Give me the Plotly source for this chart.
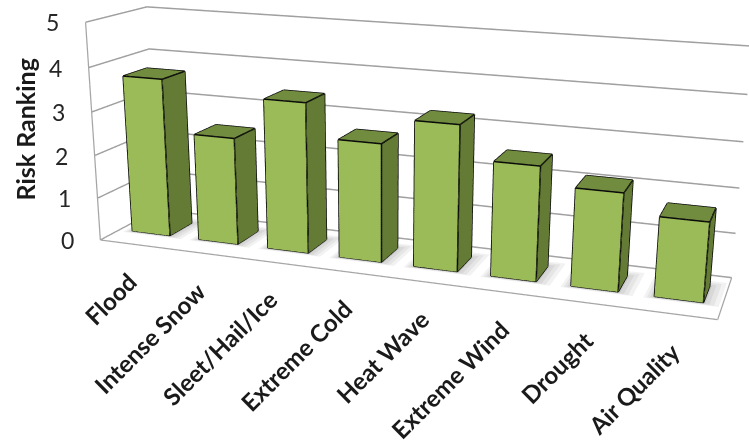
import plotly.graph_objects as go

categories = ["Flood", "Intense Snow", "Sleet/Hail/Ice", "Extreme Cold", "Heat Wave", "Extreme Wind", "Drought", "Air Quality"]
values = [3.7, 2.5, 3.45, 2.7, 3.27, 2.55, 2.16, 1.74]
ztick_values = [0, 1, 2, 3, 4, 5]
y_title = "Risk Ranking"

FRONT = "#9BBB59"
TOP = "#718C3E"
SIDE = "#637B34"
BAR_W = 0.57
Y0, Y1 = 0.3, 0.7
BASE = 0.025
SHADOW_COLORS = ["#F2F2F2", "#E5E5E5", "#D8D8D8", "#CACACA"]
SHADOW_PAD = [0.15, 0.105, 0.06, 0.02]
# The reference has a long lens; Plotly's field of view is fixed, so the scene is
# drawn larger than the window and the page is shifted to frame it.
FIG_W, FIG_H = 867, 1060
SHIFT_TOP = 321.5


def box(x0, x1, y0, y1, z0, z1, colors):
    v = [(x0, y0, z0), (x1, y0, z0), (x1, y1, z0), (x0, y1, z0),
         (x0, y0, z1), (x1, y0, z1), (x1, y1, z1), (x0, y1, z1)]
    faces = [(0, 1, 5), (0, 5, 4), (1, 2, 6), (1, 6, 5), (4, 5, 6), (4, 6, 7),
             (2, 3, 7), (2, 7, 6), (3, 0, 4), (3, 4, 7), (0, 2, 1), (0, 3, 2)]
    fc = [colors[0]] * 2 + [colors[1]] * 2 + [colors[2]] * 2 + [colors[1]] * 6
    return go.Mesh3d(
        x=[p[0] for p in v], y=[p[1] for p in v], z=[p[2] for p in v],
        i=[f[0] for f in faces], j=[f[1] for f in faces], k=[f[2] for f in faces],
        facecolor=fc, flatshading=True,
        lighting=dict(ambient=1, diffuse=0, specular=0, roughness=1, fresnel=0),
        hoverinfo="skip", showscale=False,
    )


def quad(x0, x1, y0, y1, z, color):
    return go.Mesh3d(x=[x0, x1, x1, x0], y=[y0, y0, y1, y1], z=[z] * 4, i=[0, 0], j=[1, 2], k=[2, 3],
                     color=color, flatshading=True,
                     lighting=dict(ambient=1, diffuse=0, specular=0, roughness=1, fresnel=0),
                     hoverinfo="skip", showscale=False)


def lines(segs, color, width):
    xs, ys, zs = [], [], []
    for a, b in segs:
        xs += [a[0], b[0], None]
        ys += [a[1], b[1], None]
        zs += [a[2], b[2], None]
    return go.Scatter3d(x=xs, y=ys, z=zs, mode="lines", line=dict(color=color, width=width),
                        hoverinfo="skip", showlegend=False)


def edges(x0, x1, y0, y1, z0, z1):
    segs = [
        ((x0, y0, z0), (x1, y0, z0)), ((x1, y0, z0), (x1, y1, z0)),
        ((x0, y0, z1), (x1, y0, z1)), ((x1, y0, z1), (x1, y1, z1)), ((x1, y1, z1), (x0, y1, z1)), ((x0, y1, z1), (x0, y0, z1)),
        ((x0, y0, z0), (x0, y0, z1)), ((x1, y0, z0), (x1, y0, z1)), ((x1, y1, z0), (x1, y1, z1)),
    ]
    return lines(segs, "#0A0A0A", 3)


fig = go.Figure()
n = len(categories)
fig.add_trace(lines([((0, 0, 0), (n, 0, 0)), ((n, 0, 0), (n, 1, 0)), ((n, 1, 0), (0, 1, 0)), ((0, 1, 0), (0, 0, 0)),
                     ((0, 0, 0), (0, 0, 5))], "#A6A6A6", 2.5))
for idx, val in enumerate(values):
    x0 = idx + (1 - BAR_W) / 2
    x1 = x0 + BAR_W
    for k, (col, pad) in enumerate(zip(SHADOW_COLORS, SHADOW_PAD)):
        fig.add_trace(quad(x0 - pad * 0.8, x1 + pad * 1.2, Y0 - pad * 0.2, Y1 + pad, 0.004 * (k + 1), col))
    fig.add_trace(box(x0, x1, Y0, Y1, BASE, val, [FRONT, SIDE, TOP]))
    fig.add_trace(edges(x0, x1, Y0, Y1, BASE, val))

annotations = []
for idx, name in enumerate(categories):
    annotations.append(dict(x=idx + 0.67, y=0, z=0, text="<b>" + name + "</b>", textangle=-45, showarrow=False,
                            xanchor="right", yanchor="top", yshift=-18,
                            font=dict(family="Lato", size=24, color="#1A1A1A")))
for t in ztick_values:
    annotations.append(dict(x=0, y=0, z=t, text=str(t), showarrow=False, xanchor="center", xshift=-33,
                            font=dict(family="Lato", size=23, color="#262626")))

axis_common = dict(title="", showticklabels=False, showspikes=False, zeroline=False, ticks="", showline=False)
fig.update_layout(
    width=FIG_W, height=FIG_H, margin=dict(l=0, r=0, t=0, b=0, pad=0), paper_bgcolor="white", showlegend=False,
    scene=dict(
        xaxis=dict(range=[0, n], showgrid=False, showbackground=False, **axis_common),
        yaxis=dict(range=[0, 1], showgrid=False, showbackground=False, **axis_common),
        zaxis=dict(range=[0, 5], tickvals=ztick_values, showgrid=True, gridcolor="#A0A0A0", gridwidth=3,
                   showbackground=False, **axis_common),
        aspectmode="manual", aspectratio=dict(x=2.4, y=0.439, z=0.86),
        camera=dict(eye=dict(x=1.558, y=-4.343, z=1.184), center=dict(x=0.12, y=-0.029, z=-0.212),
                    up=dict(x=-0.105, y=0.275, z=0.956), projection=dict(type="perspective")),
        annotations=annotations,
    ),
    annotations=[dict(x=24 / FIG_W, y=1 - (129 + SHIFT_TOP) / FIG_H, xref="paper", yref="paper",
                      xanchor="center", yanchor="middle",
                      text="<b>" + y_title + "</b>", textangle=-90, showarrow=False,
                      font=dict(family="Lato", size=25, color="#1A1A1A"))],
)
fig.write_html("out.html", post_script=(
    "document.documentElement.style.overflow='hidden';"
    "document.body.style.overflow='hidden';"
    "document.body.style.margin='-%spx 0 0 0';" % SHIFT_TOP))
